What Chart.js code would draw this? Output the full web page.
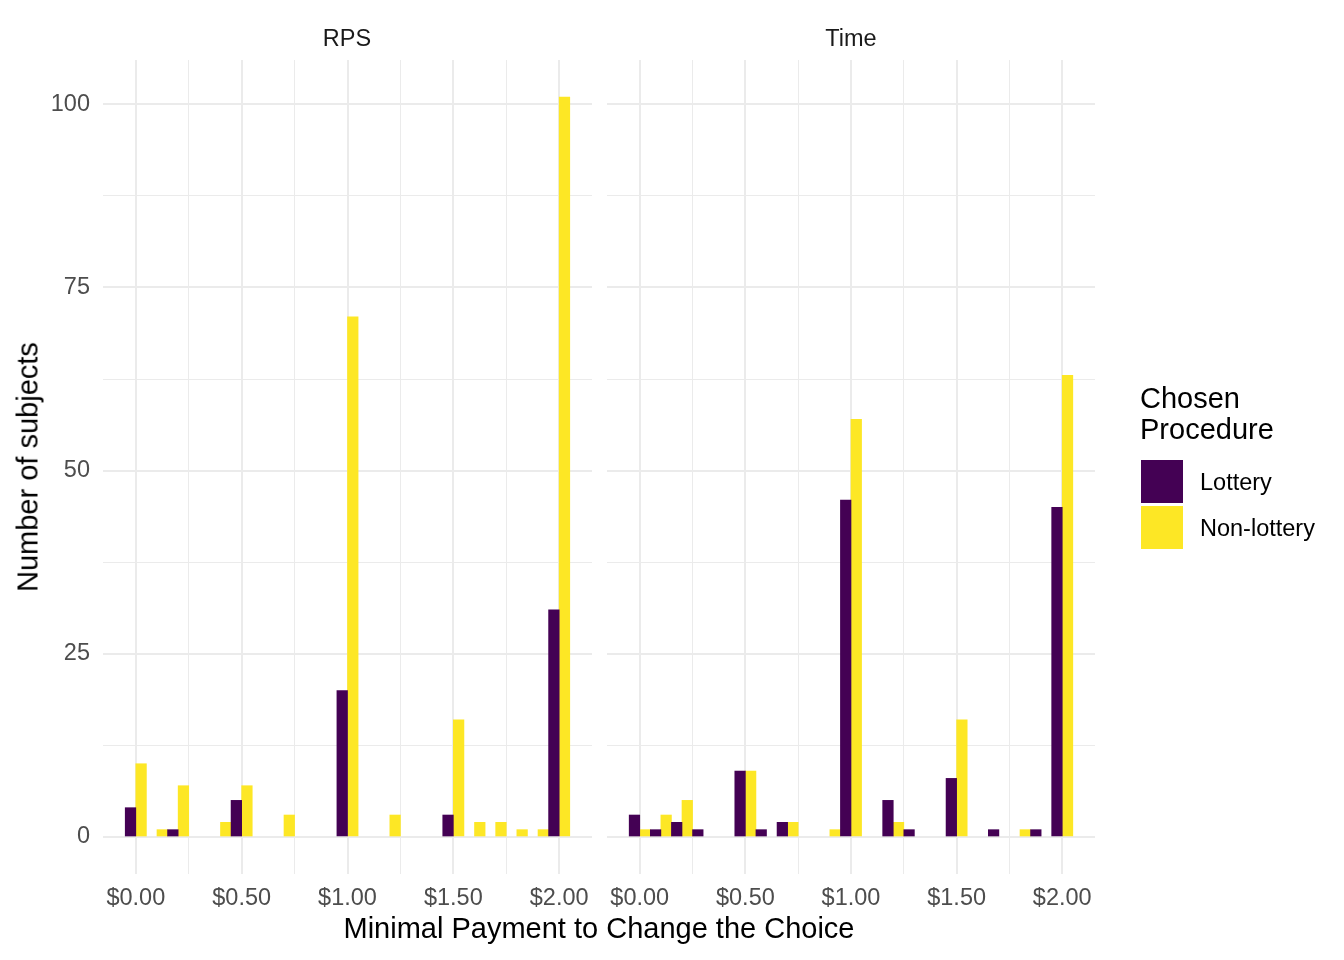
<!DOCTYPE html>
<html>
<head>
<meta charset="utf-8">
<script src="https://cdn.jsdelivr.net/npm/chart.js@4.4.1/dist/chart.umd.min.js"></script>
<style>
  body { margin: 0; background: #fff; font-family: "Liberation Sans", Arial, sans-serif; }
  #wrap { position: relative; width: 1344px; height: 960px; overflow: hidden; }
  canvas { position: absolute; left: 0; top: 0; }
  .t { position: absolute; white-space: nowrap; transform: translate(-50%, -50%); }
  .strip { font-size: 23.5px; color: #1a1a1a; }
  .title { font-size: 29px; color: #000; }
  .key { position: absolute; width: 42px; height: 43px; }
  .lab { position: absolute; font-size: 23.5px; color: #000; transform: translateY(-50%); white-space: nowrap; }
</style>
</head>
<body>
<div id="wrap">
  <canvas id="rpsChart" width="1344" height="960"></canvas>
  <canvas id="timeChart" width="1344" height="960"></canvas>

  <div class="t strip" style="left:347px; top:38px;">RPS</div>
  <div class="t strip" style="left:851px; top:38px;">Time</div>
  <div class="t title" style="left:599px; top:928px;">Minimal Payment to Change the Choice</div>
  <div class="t title" style="left:28px; top:467px; transform: translate(-50%, -50%) rotate(-90deg);">Number of subjects</div>

  <div class="title" style="position:absolute; left:1140px; top:383px; line-height:31px;">Chosen<br>Procedure</div>
  <div class="key" style="left:1141px; top:460px; background:#440154;"></div>
  <div class="key" style="left:1141px; top:506px; background:#FDE725;"></div>
  <div class="lab" style="left:1200px; top:482px;">Lottery</div>
  <div class="lab" style="left:1200px; top:528px;">Non-lottery</div>
</div>

<script>
// Minimal payment bins ($)
const payments = [0, 0.1, 0.2, 0.3, 0.4, 0.5, 0.6, 0.7, 0.8, 0.9, 1.0,
                  1.1, 1.2, 1.3, 1.4, 1.5, 1.6, 1.7, 1.8, 1.9, 2.0];

// Number of subjects per bin
const rpsLottery     = [4, 0, 1, 0, 0, 5, 0, 0, 0, 0, 20, 0, 0, 0, 0, 3, 0, 0, 0, 0, 31];
const rpsNonLottery  = [10, 1, 7, 0, 2, 7, 0, 3, 0, 0, 71, 0, 3, 0, 0, 16, 2, 2, 1, 1, 101];
const timeLottery    = [3, 1, 2, 1, 0, 9, 1, 2, 0, 0, 46, 0, 5, 1, 0, 8, 0, 1, 0, 1, 45];
const timeNonLottery = [1, 3, 5, 0, 0, 9, 0, 2, 0, 1, 57, 0, 2, 0, 0, 16, 0, 0, 1, 0, 63];

// Tick positions (majors get labels, minors only grid lines)
const xTicks = [0, 0.25, 0.5, 0.75, 1, 1.25, 1.5, 1.75, 2];
const yTicks = [0, 12.5, 25, 37.5, 50, 62.5, 75, 87.5, 100];

const lotteryColor = '#440154';
const nonLotteryColor = '#FDE725';
const gridColor = '#EBEBEB';
const tickFont = { family: '"Liberation Sans", Arial, sans-serif', size: 23.5 };

// empty bins are left out instead of drawn as zero-height bars
const noZero = arr => arr.map(v => v === 0 ? null : v);

function makePanel(canvasId, lottery, nonLottery, left, right, showY) {
    const ctx = document.getElementById(canvasId).getContext('2d');
    return new Chart(ctx, {
        type: 'bar',
        data: {
            labels: payments,
            datasets: [
                { label: 'Lottery', data: noZero(lottery), backgroundColor: lotteryColor, borderWidth: 0 },
                { label: 'Non-lottery', data: noZero(nonLottery), backgroundColor: nonLotteryColor, borderWidth: 0 }
            ]
        },
        options: {
            responsive: false,
            animation: false,
            categoryPercentage: 1,
            barPercentage: 1,
            layout: { padding: { left: showY ? 0 : left, right: 1344 - right, top: 60, bottom: 0 } },
            plugins: { legend: { display: false }, tooltip: { enabled: false } },
            scales: {
                x: {
                    type: 'linear',
                    offset: false,
                    min: -0.155,
                    max: 2.155,
                    afterBuildTicks: s => { s.ticks = xTicks.map(v => ({ value: v })); },
                    afterFit: s => { s.height = 86; },
                    border: { display: false },
                    grid: {
                        offset: false,
                        drawTicks: false,
                        color: gridColor,
                        lineWidth: c => (c.tick && c.tick.value % 0.5 === 0) ? 2 : 1
                    },
                    ticks: {
                        autoSkip: false,
                        maxRotation: 0,
                        padding: 10,
                        color: '#4d4d4d',
                        font: tickFont,
                        callback: v => (v % 0.5 === 0) ? '$' + v.toFixed(2) : ''
                    }
                },
                y: {
                    min: -5.05,
                    max: 106.05,
                    afterBuildTicks: s => { s.ticks = yTicks.map(v => ({ value: v })); },
                    afterFit: s => { s.width = showY ? left : 0; },
                    border: { display: false },
                    grid: {
                        drawTicks: false,
                        color: gridColor,
                        lineWidth: c => (c.tick && c.tick.value % 25 === 0) ? 2 : 1
                    },
                    ticks: {
                        display: showY,
                        padding: 13,
                        color: '#4d4d4d',
                        font: tickFont,
                        callback: v => (v % 25 === 0) ? String(v) : ''
                    }
                }
            }
        }
    });
}

makePanel('rpsChart', rpsLottery, rpsNonLottery, 103, 592, true);
makePanel('timeChart', timeLottery, timeNonLottery, 607, 1095, false);
</script>
</body>
</html>
